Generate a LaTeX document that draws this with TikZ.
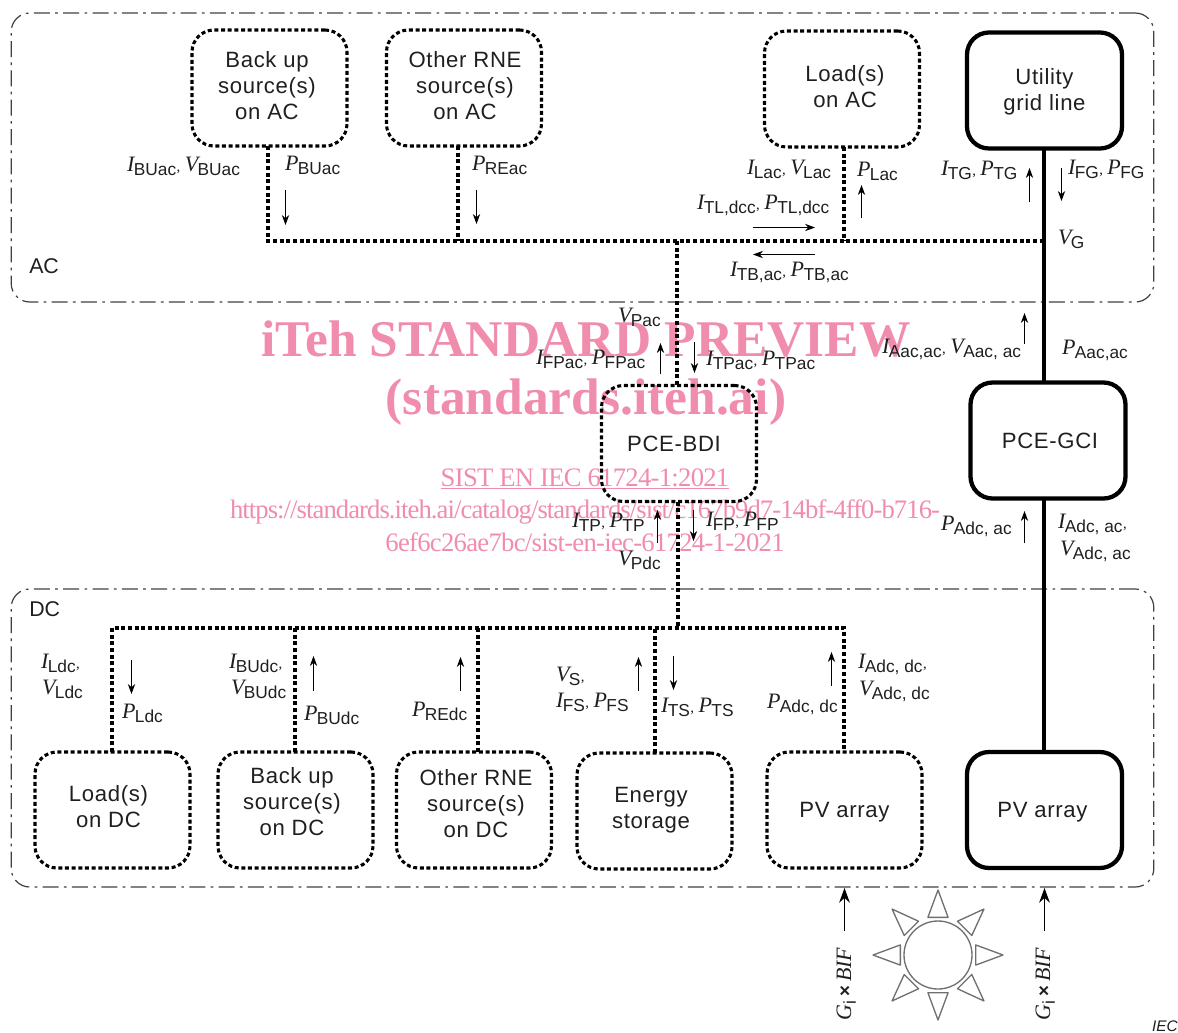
\documentclass[tikz,border=0pt]{standalone}
\usepackage{fontspec}
\usetikzlibrary{arrows.meta}
\setmainfont{Liberation Sans}
\newfontfamily\qtyserif{Liberation Serif}
\newfontfamily\wmserif{Liberation Serif}
\definecolor{wm}{HTML}{F08DAD}
\definecolor{sungray}{HTML}{707070}
\newdimen\pxu \pxu=.75pt
% quantity: italic serif symbol + sans subscript
\newcommand\qq[2]{{\fontsize{16.5}{18}\selectfont\qtyserif\itshape #1}\kern-.4pt\raisebox{-3.6pt}{\fontsize{13}{14}\selectfont #2}}
\newcommand\cma{\kern.3pt\raisebox{-.5pt}{\fontsize{11}{11}\selectfont\qtyserif ,}\kern.6pt}
\newcommand\boxt[3]{\raisebox{\dimexpr #2\pxu-6.3pt\relax}[0pt][0pt]{\makebox[0pt]{\hspace{\dimexpr 2\dimexpr #1\pxu\relax\relax}\fontsize{16.6}{19.5}\selectfont\addfontfeature{LetterSpace=3}\begin{tabular}{@{}c@{}}#3\end{tabular}}}}
\newcommand\gbif{\qq{G}{i}\hspace{3pt}{\fontsize{14}{14}\selectfont\bfseries ×}\hspace{3pt}{\fontsize{16.5}{18}\selectfont\qtyserif\itshape BIF}}
\begin{document}
\begin{tikzpicture}[x=.75pt,y=-.75pt,
  boxbase/.style={rounded corners=16.5pt,minimum width=116.25pt,minimum height=87pt,inner sep=0pt,outer sep=0pt,text=black!88},
  dotbox/.style={boxbase,draw,line width=2.3pt,dash pattern=on 3pt off 2pt},
  solidbox/.style={boxbase,draw,line width=3.2pt},
  frame/.style={draw,line width=.9pt,rounded corners=14pt,dash pattern=on 12pt off 4pt on 2pt off 4pt,black!75},
  dotline/.style={line width=2.3pt,dash pattern=on 3pt off 2pt},
  solidline/.style={line width=3.5pt},
  flow/.style={line width=.8pt,-{Stealth[length=7.5pt,width=5.5pt]}},
  flowbig/.style={line width=.9pt,-{Stealth[length=11pt,width=8pt]}},
  qty/.style={anchor=base west,inner sep=0pt,outer sep=0pt,text=black!88},
  zone/.style={anchor=base west,inner sep=0pt,font=\fontsize{16}{19}\selectfont,text=black!88},
  wmtext/.style={inner sep=0pt,text=wm},
  ray/.style={draw=sungray,line width=1pt,line join=round},
]
\useasboundingbox (0,0) rectangle (1178,1032);

% watermark (under the drawing)
\node[wmtext,font=\wmserif\bfseries\fontsize{38.6}{40}\selectfont] (wm1) at (586,339) {iTeh STANDARD PREVIEW};
\node[wmtext,font=\wmserif\bfseries\fontsize{38.6}{40}\selectfont] (wm2) at (586,402) {(standards.iteh.ai)};
\node[wmtext,font=\wmserif\fontsize{20}{22}\selectfont] (wm3) at (585,479) {\addfontfeature{LetterSpace=-2.7}\underline{SIST EN IEC 61724-1:2021}};
\node[wmtext,font=\wmserif\fontsize{20}{22}\selectfont] (wm4) at (585,512) {\addfontfeature{LetterSpace=-3.5}https://standards.iteh.ai/catalog/standards/sist/c167b9d7-14bf-4ff0-b716-};
\node[wmtext,font=\wmserif\fontsize{20}{22}\selectfont] (wm5) at (585,542) {\addfontfeature{LetterSpace=-2.7}6ef6c26ae7bc/sist-en-iec-61724-1-2021};

% zones
\node[frame,minimum width=857pt,minimum height=216.75pt,inner sep=0pt] (acz) at (582.5,157.5) {};
\node[frame,minimum width=857pt,minimum height=223.5pt,inner sep=0pt] (dcz) at (582.5,738) {};
\node[zone] (aclab) at (29,273) {AC};
\node[zone] (dclab) at (29,616) {DC};

% boxes
\node[dotbox] (bu) at (269.5,88) {\boxt{-2.5}{2}{Back up\\source(s)\\on AC}};
\node[dotbox] (ore) at (464,88) {\boxt{1}{2}{Other RNE\\source(s)\\on AC}};
\node[dotbox] (lac) at (842,89) {\boxt{3}{2.5}{Load(s)\\on AC}};
\node[solidbox] (util) at (1044.5,90.5) {\boxt{0}{0.5}{Utility\\grid line}};
\node[dotbox] (bdi) at (679,443.5) {\boxt{-5}{0}{PCE-BDI}};
\node[solidbox] (gci) at (1048,440.5) {\boxt{2}{0}{PCE-GCI}};
\node[dotbox] (ldc) at (112.5,810) {\boxt{-4}{3}{Load(s)\\on DC}};
\node[dotbox] (budc) at (295.5,810) {\boxt{-3.5}{8}{Back up\\source(s)\\on DC}};
\node[dotbox] (ordc) at (474,810) {\boxt{2}{6}{Other RNE\\source(s)\\on DC}};
\node[dotbox] (es) at (654.5,811) {\boxt{-3.5}{3}{Energy\\storage}};
\node[dotbox] (pv) at (844.5,810) {\boxt{0}{0}{PV array}};
\node[solidbox] (pvt) at (1044.5,810) {\boxt{-2}{0}{PV array}};

% junctions
\coordinate (jbu) at (268,241);
\coordinate (jore) at (458,241);
\coordinate (jbdia) at (677,241);
\coordinate (jlac) at (844,241);
\coordinate (jgrid) at (1044,241);
\coordinate (jl) at (112,628);
\coordinate (jbd) at (295,628);
\coordinate (jod) at (478,628);
\coordinate (jes) at (655,628);
\coordinate (jbdid) at (678,628);
\coordinate (jpv) at (844,628);

% dotted connectors
\draw[dotline] (bu.south -| jbu) -- (jbu) -- (jore) -- (jbdia) -- (jlac) -- (jgrid);
\draw[dotline] (ore.south -| jore) -- (jore);
\draw[dotline] (lac.south -| jlac) -- (jlac);
\draw[dotline] (jbdia) -- (bdi.north -| jbdia);
\draw[dotline] (bdi.south -| jbdid) -- (jbdid);
\draw[dotline] (ldc.north -| jl) -- (jl) -- (jbd) -- (jod) -- (jes) -- (jbdid) -- (jpv) -- (pv.north -| jpv);
\draw[dotline] (budc.north -| jbd) -- (jbd);
\draw[dotline] (ordc.north -| jod) -- (jod);
\draw[dotline] (es.north -| jes) -- (jes);

% solid connectors
\draw[solidline] (util.south -| jgrid) -- (gci.north -| jgrid);
\draw[solidline] (gci.south -| jgrid) -- (pvt.north -| jgrid);

% flow arrows
\coordinate (a1s) at (285.5,190); \coordinate (a1e) at (285.5,225); \draw[flow] (a1s) -- (a1e);
\coordinate (a2s) at (476.5,190); \coordinate (a2e) at (476.5,224); \draw[flow] (a2s) -- (a2e);
\coordinate (a3s) at (861.5,218); \coordinate (a3e) at (861.5,185); \draw[flow] (a3s) -- (a3e);
\coordinate (a4s) at (753,227.5); \coordinate (a4e) at (815,227.5); \draw[flow] (a4s) -- (a4e);
\coordinate (a5s) at (815,254.5); \coordinate (a5e) at (753,254.5); \draw[flow] (a5s) -- (a5e);
\coordinate (a6s) at (1029.5,202); \coordinate (a6e) at (1029.5,168); \draw[flow] (a6s) -- (a6e);
\coordinate (a7s) at (1061.5,168); \coordinate (a7e) at (1061.5,201); \draw[flow] (a7s) -- (a7e);
\coordinate (a8s) at (1024.5,344); \coordinate (a8e) at (1024.5,313); \draw[flow] (a8s) -- (a8e);
\coordinate (a9s) at (660.5,374); \coordinate (a9e) at (660.5,343); \draw[flow] (a9s) -- (a9e);
\coordinate (a10s) at (694.5,342); \coordinate (a10e) at (694.5,373); \draw[flow] (a10s) -- (a10e);
\coordinate (a11s) at (657.5,543); \coordinate (a11e) at (657.5,510); \draw[flow] (a11s) -- (a11e);
\coordinate (a12s) at (693.5,510); \coordinate (a12e) at (693.5,541); \draw[flow] (a12s) -- (a12e);
\coordinate (a13s) at (1024.5,543); \coordinate (a13e) at (1024.5,511); \draw[flow] (a13s) -- (a13e);
\coordinate (a14s) at (131.5,660); \coordinate (a14e) at (131.5,694); \draw[flow] (a14s) -- (a14e);
\coordinate (a15s) at (313.5,691); \coordinate (a15e) at (313.5,656); \draw[flow] (a15s) -- (a15e);
\coordinate (a16s) at (460.5,691); \coordinate (a16e) at (460.5,657); \draw[flow] (a16s) -- (a16e);
\coordinate (a17s) at (638.5,691); \coordinate (a17e) at (638.5,657); \draw[flow] (a17s) -- (a17e);
\coordinate (a18s) at (673.5,656); \coordinate (a18e) at (673.5,690); \draw[flow] (a18s) -- (a18e);
\coordinate (a19s) at (831.5,686); \coordinate (a19e) at (831.5,652); \draw[flow] (a19s) -- (a19e);
\coordinate (a20s) at (844.5,931); \coordinate (a20e) at (844.5,888); \draw[flowbig] (a20s) -- (a20e);
\coordinate (a21s) at (1044.5,931); \coordinate (a21e) at (1044.5,888); \draw[flowbig] (a21s) -- (a21e);

% quantities
\node[qty] (q1) at (127,171) {\qq{I}{BUac}\cma\ \qq{V}{BUac}};
\node[qty] (q2) at (285,170) {\qq{P}{BUac}};
\node[qty] (q3) at (472,170) {\qq{P}{REac}};
\node[qty] (q4) at (747,174) {\qq{I}{Lac}\cma\ \qq{V}{Lac}};
\node[qty] (q5) at (857,176) {\qq{P}{Lac}};
\node[qty] (q6) at (697,209) {\qq{I}{TL,dcc}\cma\ \qq{P}{TL,dcc}};
\node[qty] (q7) at (730,276) {\qq{I}{TB,ac}\cma\ \qq{P}{TB,ac}};
\node[qty] (q8) at (941,175) {\qq{I}{TG}\cma\ \qq{P}{TG}};
\node[qty] (q9) at (1068,174) {\qq{I}{FG}\cma\ \qq{P}{FG}};
\node[qty] (q10) at (1058,244) {\qq{V}{G}};
\node[qty] (q11) at (618,322) {\qq{V}{Pac}};
\node[qty] (q12) at (536,364) {\qq{I}{FPac}\cma\ \qq{P}{FPac}};
\node[qty] (q13) at (706,365) {\qq{I}{TPac}\cma\ \qq{P}{TPac}};
\node[qty] (q14) at (882,353) {\qq{I}{Aac,ac}\cma\ \qq{V}{Aac, ac}};
\node[qty] (q15) at (1062,354) {\qq{P}{Aac,ac}};
\node[qty] (q16) at (572,527) {\qq{I}{TP}\cma\ \qq{P}{TP}};
\node[qty] (q17) at (706,526) {\qq{I}{FP}\cma\ \qq{P}{FP}};
\node[qty] (q18) at (618,565) {\qq{V}{Pdc}};
\node[qty] (q19) at (941,530) {\qq{P}{Adc, ac}};
\node[qty] (q20) at (1058,528) {\qq{I}{Adc, ac}\cma};
\node[qty] (q21) at (1060,555) {\qq{V}{Adc, ac}};
\node[qty] (q22) at (41,668) {\qq{I}{Ldc}\cma};
\node[qty] (q23) at (42,694) {\qq{V}{Ldc}};
\node[qty] (q24) at (122,718) {\qq{P}{Ldc}};
\node[qty] (q25) at (229,668) {\qq{I}{BUdc}\cma};
\node[qty] (q26) at (231,694) {\qq{V}{BUdc}};
\node[qty] (q27) at (304,720) {\qq{P}{BUdc}};
\node[qty] (q28) at (412,716) {\qq{P}{REdc}};
\node[qty] (q29) at (556,681) {\qq{V}{S}\cma};
\node[qty] (q30) at (556,707) {\qq{I}{FS}\cma\ \qq{P}{FS}};
\node[qty] (q31) at (661,712) {\qq{I}{TS}\cma\ \qq{P}{TS}};
\node[qty] (q32) at (767,708) {\qq{P}{Adc, dc}};
\node[qty] (q33) at (858,668) {\qq{I}{Adc, dc}\cma};
\node[qty] (q34) at (859,695) {\qq{V}{Adc, dc}};

% irradiance labels
\node[qty,rotate=90] (g1) at (851,1020) {\gbif};
\node[qty,rotate=90] (g2) at (1050,1020) {\gbif};

% sun
\node[draw=sungray,line width=1pt,circle,minimum size=51pt,inner sep=0pt] (sun) at (938,955) {};
\foreach \a in {0,45,...,315}{
  \draw[ray] ([shift={(\a:65)}]sun.center) -- ([shift={(\a+15:39)}]sun.center) -- ([shift={(\a-15:39)}]sun.center) -- cycle;
}

\node[anchor=base east,inner sep=0pt,font=\itshape\fontsize{11.5}{13}\selectfont,text=black!88] (iec) at (1178,1031) {IEC};
\end{tikzpicture}
\end{document}
